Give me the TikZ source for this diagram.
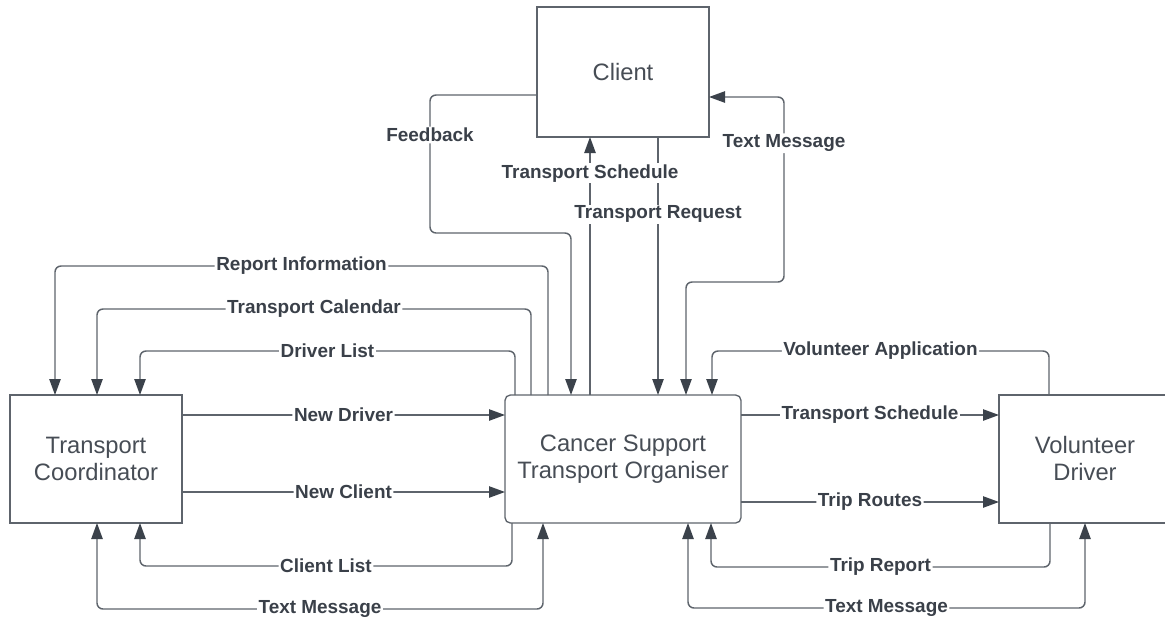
\documentclass[tikz,border=0pt]{standalone}
\usepackage{fontspec}
\setmainfont{Liberation Sans}
\usepackage{tikz}
\usetikzlibrary{arrows.meta}
\usepackage{xcolor}

\definecolor{linegray}{HTML}{5E646C}
\definecolor{tipgray}{HTML}{3B424B}
\definecolor{txtgray}{HTML}{3A4049}
\definecolor{boxtext}{HTML}{474D55}

\begin{document}
\begin{tikzpicture}[
  x=0.75pt, y=-0.75pt,
  >={Triangle[length=12pt, width=8.5pt, color=tipgray]},
  box/.style={draw=linegray, line width=1pt, minimum width=129pt, minimum height=96pt, align=center, text=boxtext, font=\fontsize{17.8}{20.25}\selectfont, inner sep=0pt, outer sep=0pt},
  arrow/.style={->, draw=linegray, line width=1.1pt, rounded corners=4.5pt},
  flowlabel/.style={font=\bfseries\fontsize{14.2}{16}\selectfont, text=txtgray, fill=white, inner xsep=1.2pt, inner ysep=1pt}
]
\useasboundingbox[fill=white] (0,0) rectangle (1165,618);

% External entities and the system
\node[box, minimum height=97.5pt] (client) at (623,72) {Client};
\node[box] (coord) at (96,459) {Transport\\Coordinator};
\node[box, rounded corners=4pt, minimum width=177pt] (org) at (623,459) {Cancer Support\\Transport Organiser};
\node[box] (vol) at (1085,459) {Volunteer\\Driver};

% Organiser -> coordinator, over the top
\draw[arrow] (org.north -| 548,0) -- (548,266) -- node[flowlabel]{Report Information} (55,266) -- (coord.north -| 55,0);
\draw[arrow] (org.north -| 531,0) -- (531,309) -- node[flowlabel]{Transport Calendar} (97,309) -- (coord.north -| 97,0);
\draw[arrow] (org.north -| 515,0) -- (515,351) -- node[flowlabel]{Driver List} (140,351) -- (coord.north -| 140,0);

% Coordinator <-> organiser
\draw[arrow] (coord.east |- 0,415) -- node[flowlabel]{New Driver} (org.west |- 0,415);
\draw[arrow] (coord.east |- 0,492) -- node[flowlabel]{New Client} (org.west |- 0,492);
\draw[arrow] (org.south -| 512,0) -- (512,566) -- node[flowlabel]{Client List} (140,566) -- (coord.south -| 140,0);
\draw[arrow, <->] (coord.south -| 97,0) -- (97,609) -- node[flowlabel]{Text Message} (543,609) -- (org.south -| 543,0);

% Client <-> organiser
\draw[arrow] (client.west |- 0,95) -- (430,95) -- node[flowlabel, pos=0.29]{Feedback} (430,233) -- (571,233) -- (org.north -| 571,0);
\draw[arrow] (org.north -| 590,0) -- (client.south -| 590,0);
\draw[arrow] (client.south -| 658,0) -- (org.north -| 658,0);
\draw[arrow, <->] (org.north -| 686,0) -- (686,282) -- (784,282) -- node[flowlabel, pos=0.75]{Text Message} (784,97) -- (client.east |- 0,97);
% labels on top of both crossing lines
\path (org.north -| 590,0) -- node[flowlabel, pos=0.86]{Transport Schedule} (client.south -| 590,0);
\path (client.south -| 658,0) -- node[flowlabel, pos=0.3]{Transport Request} (org.north -| 658,0);

% Organiser <-> volunteer driver
\draw[arrow] (vol.north -| 1049,0) -- (1049,351) -- node[flowlabel]{Volunteer Application} (712,351) -- (org.north -| 712,0);
\draw[arrow] (org.east |- 0,415) -- node[flowlabel]{Transport Schedule} (vol.west |- 0,415);
\draw[arrow] (org.east |- 0,502) -- node[flowlabel]{Trip Routes} (vol.west |- 0,502);
\draw[arrow] (vol.south -| 1050,0) -- (1050,567) -- node[flowlabel]{Trip Report} (711,567) -- (org.south -| 711,0);
\draw[arrow, <->] (org.south -| 688,0) -- (688,608) -- node[flowlabel]{Text Message} (1085,608) -- (vol.south -| 1085,0);

\end{tikzpicture}
\end{document}
